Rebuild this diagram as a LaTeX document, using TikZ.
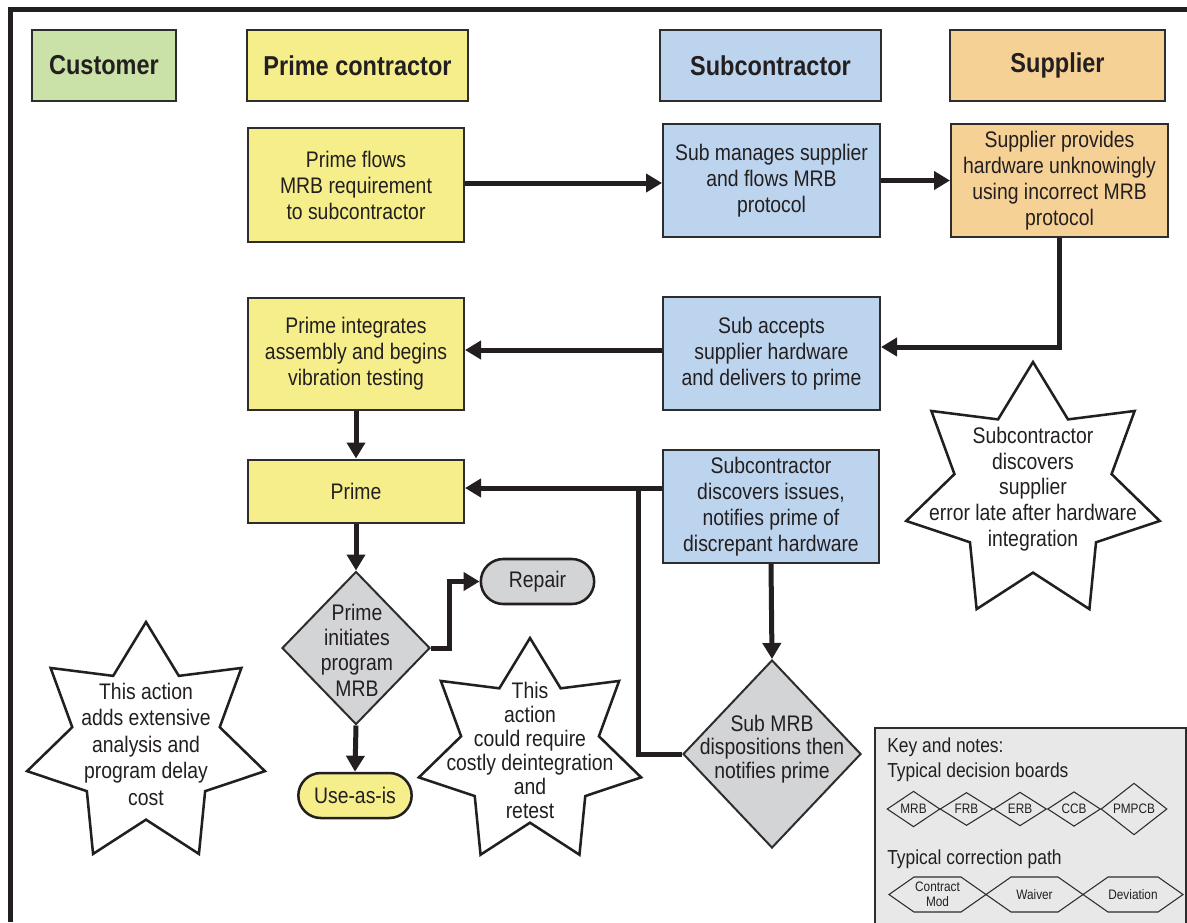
\documentclass[tikz,border=0pt]{standalone}
\usepackage{fontspec}
\setmainfont[FakeStretch=0.86]{Liberation Sans}
\usetikzlibrary{arrows.meta,shapes.geometric,shapes.misc}

\definecolor{ink}{RGB}{35,31,32}
\definecolor{edge}{RGB}{45,45,45}
\definecolor{ylw}{RGB}{245,238,138}
\definecolor{blu}{RGB}{189,212,238}
\definecolor{org}{RGB}{246,209,150}
\definecolor{grn}{RGB}{202,226,168}
\definecolor{gry}{RGB}{211,212,214}
\definecolor{keybg}{RGB}{232,232,232}

\newcommand\bodyfont{\fontsize{16.9pt}{19.5pt}\selectfont}
\newcommand\headfont{\fontsize{20.5pt}{23pt}\selectfont\bfseries}
\newcommand\keyfont{\fontsize{15.2pt}{18pt}\selectfont}
\newcommand\tinyfont{\fontsize{10.3pt}{11pt}\selectfont}

% seven-pointed star: centre x, centre y, outer radius
\newcommand\sevenstar[3]{%
  \begin{scope}[shift={(#1,#2)}]
    \draw[starline] (-90:#3)
      \foreach \k in {0,...,6} {
        -- ({-90+(\k+0.5)*360/7}:{0.62*#3}) -- ({-90+(\k+1)*360/7}:#3)
      } -- cycle;
  \end{scope}}

% hexagon for the correction path key: left x, right x, centre y
\newcommand\keyhex[3]{%
  \draw[keyline] (#1,#3) -- (#1+25,#3-17.5) -- (#2-25,#3-17.5) -- (#2,#3)
    -- (#2-25,#3+17.5) -- (#1+25,#3+17.5) -- cycle;}

\begin{document}
\begin{tikzpicture}[x=0.75pt,y=-0.75pt,
  every node/.style={font=\bodyfont,text=ink},
  box/.style={rectangle,draw=edge,line width=1.5pt,align=center,inner sep=0pt},
  head/.style={box,font=\headfont,minimum height=53.25pt},
  procbox/.style={box,minimum width=162pt,minimum height=84.75pt},
  dia/.style={diamond,draw=edge,line width=1.5pt,fill=gry,inner sep=0pt},
  pill/.style={rounded rectangle,draw=ink,line width=1.9pt,minimum width=85pt,
    minimum height=33.75pt,inner sep=0pt},
  flow/.style={draw=ink,line width=3.75pt,-{Triangle[length=12pt,width=13.5pt]}},
  link/.style={draw=ink,line width=3.75pt},
  starline/.style={draw=ink,line width=1.9pt,fill=white,line join=miter},
  startext/.style={align=center,inner sep=0pt},
  keyline/.style={draw=edge,line width=0.8pt},
  keydia/.style={diamond,draw=edge,line width=0.8pt,inner sep=0pt,
    minimum width=39.75pt,minimum height=23.25pt,font=\tinyfont},
  keylabel/.style={anchor=west,inner sep=0pt,font=\keyfont}
]
\useasboundingbox (0,0) rectangle (1187,922);

% outer frame (top and left rules)
\draw[link] (10.5,922) -- (10.5,9.5) -- (1187,9.5);

% column headings
\node[head,fill=grn,minimum width=108pt]    (cust)  at (104,65.5)    {Customer};
\node[head,fill=ylw,minimum width=165.75pt] (primeh) at (357.5,65.5) {Prime contractor};
\node[head,fill=blu,minimum width=165.75pt] (subh)  at (770.5,65.5)  {Subcontractor};
\node[head,fill=org,minimum width=161.25pt] (supph) at (1057.5,65.5) {Supplier};

% process boxes
\node[procbox,fill=ylw,minimum height=85.5pt] (flows) at (356,185)
  {Prime flows\\MRB requirement\\to subcontractor};
\node[procbox,fill=blu,minimum width=162.75pt] (subman) at (771.5,180.5)
  {Sub manages supplier\\and flows MRB\\protocol};
\node[procbox,fill=org,minimum width=162.75pt] (supprov) at (1059.5,180.5)
  {Supplier provides\\hardware unknowingly\\using incorrect MRB\\protocol};
\node[procbox,fill=ylw,minimum height=84pt] (integ) at (356,354)
  {Prime integrates\\assembly and begins\\vibration testing};
\node[procbox,fill=blu,minimum width=162.75pt] (subacc) at (771.5,353.5)
  {Sub accepts\\supplier hardware\\and delivers to prime};
\node[box,fill=ylw,minimum width=162pt,minimum height=47.25pt] (prime) at (356,491)
  {Prime};
\node[procbox,fill=blu] (subdisc) at (771,506.5)
  {Subcontractor\\discovers issues,\\notifies prime of\\discrepant hardware};

% decisions
\node[dia,minimum width=111pt,minimum height=114.75pt] (pinit) at (356,648) {};
\node[align=center,inner sep=0pt,font=\fontsize{16.9pt}{19pt}\selectfont] (pinittxt) at (357,650)
  {Prime\\initiates\\program\\MRB};
\node[dia,minimum width=133.5pt,minimum height=141pt] (submrb) at (772,754) {};
\node[align=center,inner sep=0pt,font=\fontsize{16.9pt}{17.6pt}\selectfont] (submrbtxt) at (772,749)
  {Sub MRB\\dispositions then\\notifies prime};

% outcomes
\node[pill,fill=gry] (repair) at (537.5,581.5) {Repair};
\node[pill,fill=ylw] (useas) at (355,795.5) {Use-as-is};

% connectors
\coordinate (ya) at (0,183);
\coordinate (yb) at (0,347);
\coordinate (yc) at (0,350);
\coordinate (j1) at (638,488);
\draw[flow] (flows.east |- ya) -- (subman.west |- ya);
\draw[flow] (subman.east) -- (supprov.west);
\draw[flow] (supprov.south) |- (subacc.east |- yb);
\draw[flow] (subacc.west |- yc) -- (integ.east |- yc);
\draw[flow] (integ.south) -- (prime.north);
\draw[flow] (subdisc.west |- j1) -- (prime.east |- j1);
\draw[link] (submrb.west) -| (j1);
\draw[flow] (subdisc.south) -- (submrb.north);
\draw[flow] (prime.south) -- (pinit.north);
\draw[flow] (pinit.east) -- ++(18,0) |- (repair.west);
\draw[flow] (pinit.south) -- (useas.north);

% call-out stars
\sevenstar{146}{744}{122}
\node[startext,font=\fontsize{16.9pt}{19.9pt}\selectfont] (note1) at (146,744)
  {This action\\adds extensive\\analysis and\\program delay\\cost};
\sevenstar{530}{752}{114}
\node[startext,font=\fontsize{16.9pt}{18pt}\selectfont] (note2) at (530,750)
  {This\\action\\could require\\costly deintegration\\and\\retest};
\sevenstar{1033}{492}{130}
\node[startext,font=\fontsize{16.9pt}{19.3pt}\selectfont] (note3) at (1033,489)
  {Subcontractor\\discovers\\supplier\\error late after hardware\\integration};

% key and notes panel
\begin{scope}
  \clip (0,0) rectangle (1187,922);
  \draw[draw=edge,line width=1.2pt,fill=keybg] (875,728) rectangle (1186,940);
\end{scope}
\node[keylabel] (keyt) at (887,747) {Key and notes:};
\node[keylabel] (boards) at (887,772) {Typical decision boards};
\node[keydia] (kmrb) at (913.5,809) {MRB};
\node[keydia] (kfrb) at (966.5,809) {FRB};
\node[keydia] (kerb) at (1020,809) {ERB};
\node[keydia] (kccb) at (1074,809) {CCB};
\node[keydia,minimum width=49.5pt,minimum height=27.75pt] (kpmp) at (1134,809) {PMPCB};
\node[keylabel] (path) at (887,859) {Typical correction path};
\keyhex{889}{986}{894.5}
\keyhex{986}{1083}{894.5}
\keyhex{1083}{1183}{894.5}
\node[align=center,inner sep=0pt,font=\fontsize{10.3pt}{11pt}\selectfont] (kcon) at (937.5,894.5) {Contract\\Mod};
\node[inner sep=0pt,font=\tinyfont] (kwai) at (1034.5,894.5) {Waiver};
\node[inner sep=0pt,font=\tinyfont] (kdev) at (1133,894.5) {Deviation};
\end{tikzpicture}
\end{document}
